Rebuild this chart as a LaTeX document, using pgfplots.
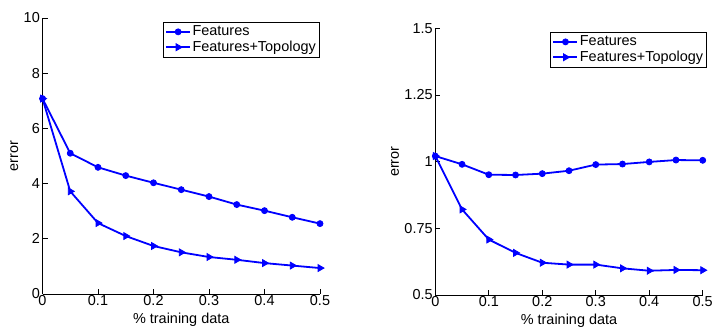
\documentclass[border=0pt]{standalone}
\usepackage{fontspec}
\setmainfont{Liberation Sans}
\usepackage{pgfplots}
\pgfplotsset{compat=1.18}
\definecolor{mblue}{RGB}{0,0,255}
\begin{document}
\fontsize{14.5}{17}\selectfont
\begin{tikzpicture}[x=1bp,y=1bp]
\useasboundingbox (0,0) rectangle (712,326);
\pgfplotsset{
  myaxis/.style={
    scale only axis,
    axis lines*=left,
    tick align=inside,
    major tick length=5bp,
    axis line style={line width=0.7bp},
    tick style={line width=0.7bp,black},
    xmin=0,xmax=0.5,
    xtick={0,0.1,0.2,0.3,0.4,0.5},
    xticklabels={0,0.1,0.2,0.3,0.4,0.5},
    /pgf/number format/assume math mode=true,
    font=\fontsize{14.5}{17}\selectfont,
    tick label style={font=\fontsize{14.5}{17}\selectfont},
    xticklabel style={inner sep=1bp},
    yticklabel style={inner sep=2.5bp},
    xlabel={\% training data},
    ylabel={error},
    xlabel style={inner sep=0bp, yshift=-6bp},
    ylabel style={yshift=-2bp},
    legend cell align=left,
    legend style={anchor=north west, draw=black, line width=0.6bp, fill=white,
      inner sep=2bp, row sep=0bp,
      font=\fontsize{14.5}{17}\selectfont,
      nodes={inner sep=1.5bp}},
    legend image code/.code={\draw[mark repeat=2,mark phase=2,##1] plot coordinates {(0bp,0bp) (12bp,0bp) (24bp,0bp)};},
  },
  feat/.style={color=mblue, line width=1.8bp, mark=*, mark size=3bp, mark options={fill=mblue, line width=0.8bp}},
  topo/.style={color=mblue, line width=1.8bp, mark=triangle*, mark size=4bp, mark options={fill=mblue, rotate=-90, line width=0.8bp}},
}
\begin{axis}[myaxis,
  at={(42.5bp,32bp)}, anchor=south west,
  width=277.5bp, height=276bp,
  ymin=0, ymax=10, ytick={0,2,4,6,8,10},
  legend style={at={(0.434,0.9855)}},
]
\addplot[feat] coordinates {
(0,7.08) (0.05,5.10) (0.1,4.59) (0.15,4.29) (0.2,4.03) (0.25,3.78)
(0.3,3.53) (0.35,3.24) (0.4,3.02) (0.45,2.78) (0.5,2.55)};
\addlegendentry{Features}
\addplot[topo] coordinates {
(0,7.08) (0.05,3.72) (0.1,2.57) (0.15,2.10) (0.2,1.74) (0.25,1.51)
(0.3,1.34) (0.35,1.24) (0.4,1.12) (0.45,1.03) (0.5,0.94)};
\addlegendentry{Features+Topology}
\end{axis}
\begin{axis}[myaxis,
  at={(435.3bp,31bp)}, anchor=south west,
  width=267.4bp, height=266.7bp,
  ymin=0.5, ymax=1.5, ytick={0.5,0.75,1,1.25,1.5},
  yticklabels={0.5,0.75,1,1.25,1.5},
  legend style={at={(0.430,0.986)}},
]
\addplot[feat] coordinates {
(0,1.021) (0.05,0.990) (0.1,0.951) (0.15,0.950) (0.2,0.955) (0.25,0.966)
(0.3,0.989) (0.35,0.991) (0.4,0.999) (0.45,1.006) (0.5,1.005)};
\addlegendentry{Features}
\addplot[topo] coordinates {
(0,1.021) (0.05,0.821) (0.1,0.708) (0.15,0.658) (0.2,0.621) (0.25,0.614)
(0.3,0.614) (0.35,0.600) (0.4,0.591) (0.45,0.594) (0.5,0.593)};
\addlegendentry{Features+Topology}
\end{axis}
\end{tikzpicture}
\end{document}
